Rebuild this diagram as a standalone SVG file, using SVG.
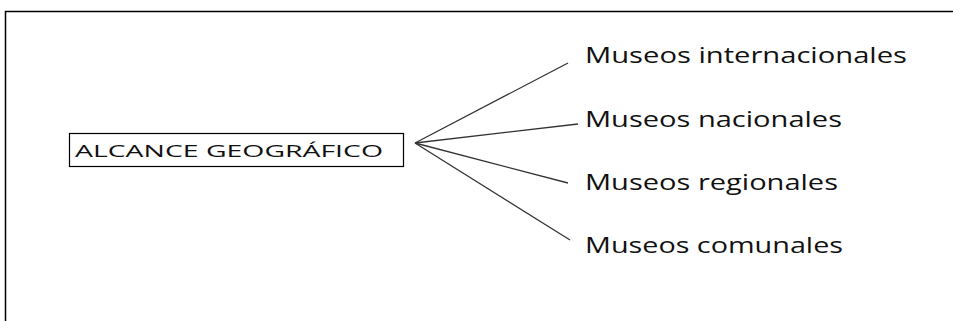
<svg xmlns="http://www.w3.org/2000/svg" width="953" height="321" viewBox="0 0 953 321">
<style>
.t{font-family:"Open Sans","Liberation Sans",sans-serif;fill:#111}
.lbl{font-size:21px}
.c{stroke:#333;stroke-width:1.3;fill:none}
</style>
<rect width="953" height="321" fill="#fff"/>
<g id="frame"><path d="M5.5 321 V11.5 H953" fill="none" stroke="#000" stroke-width="1.5"/></g>
<g id="root">
<rect x="69.5" y="133.5" width="334" height="33" fill="#fff" stroke="#000" stroke-width="1.2"/>
<text class="t" x="75" y="157" font-size="17" textLength="308" lengthAdjust="spacingAndGlyphs">ALCANCE GEOGRÁFICO</text>
</g>
<g id="connectors">
<line class="c" x1="415" y1="143" x2="568" y2="63"/>
<line class="c" x1="415" y1="143" x2="578" y2="124"/>
<line class="c" x1="415" y1="143" x2="568" y2="183"/>
<line class="c" x1="415" y1="143" x2="570" y2="240"/>
</g>
<g id="n1"><text class="t lbl" x="585" y="63" textLength="322" lengthAdjust="spacingAndGlyphs">Museos internacionales</text></g>
<g id="n2"><text class="t lbl" x="585" y="127" textLength="257" lengthAdjust="spacingAndGlyphs">Museos nacionales</text></g>
<g id="n3"><text class="t lbl" x="585" y="190" textLength="253" lengthAdjust="spacingAndGlyphs">Museos regionales</text></g>
<g id="n4"><text class="t lbl" x="585" y="253" textLength="258" lengthAdjust="spacingAndGlyphs">Museos comunales</text></g>
</svg>
